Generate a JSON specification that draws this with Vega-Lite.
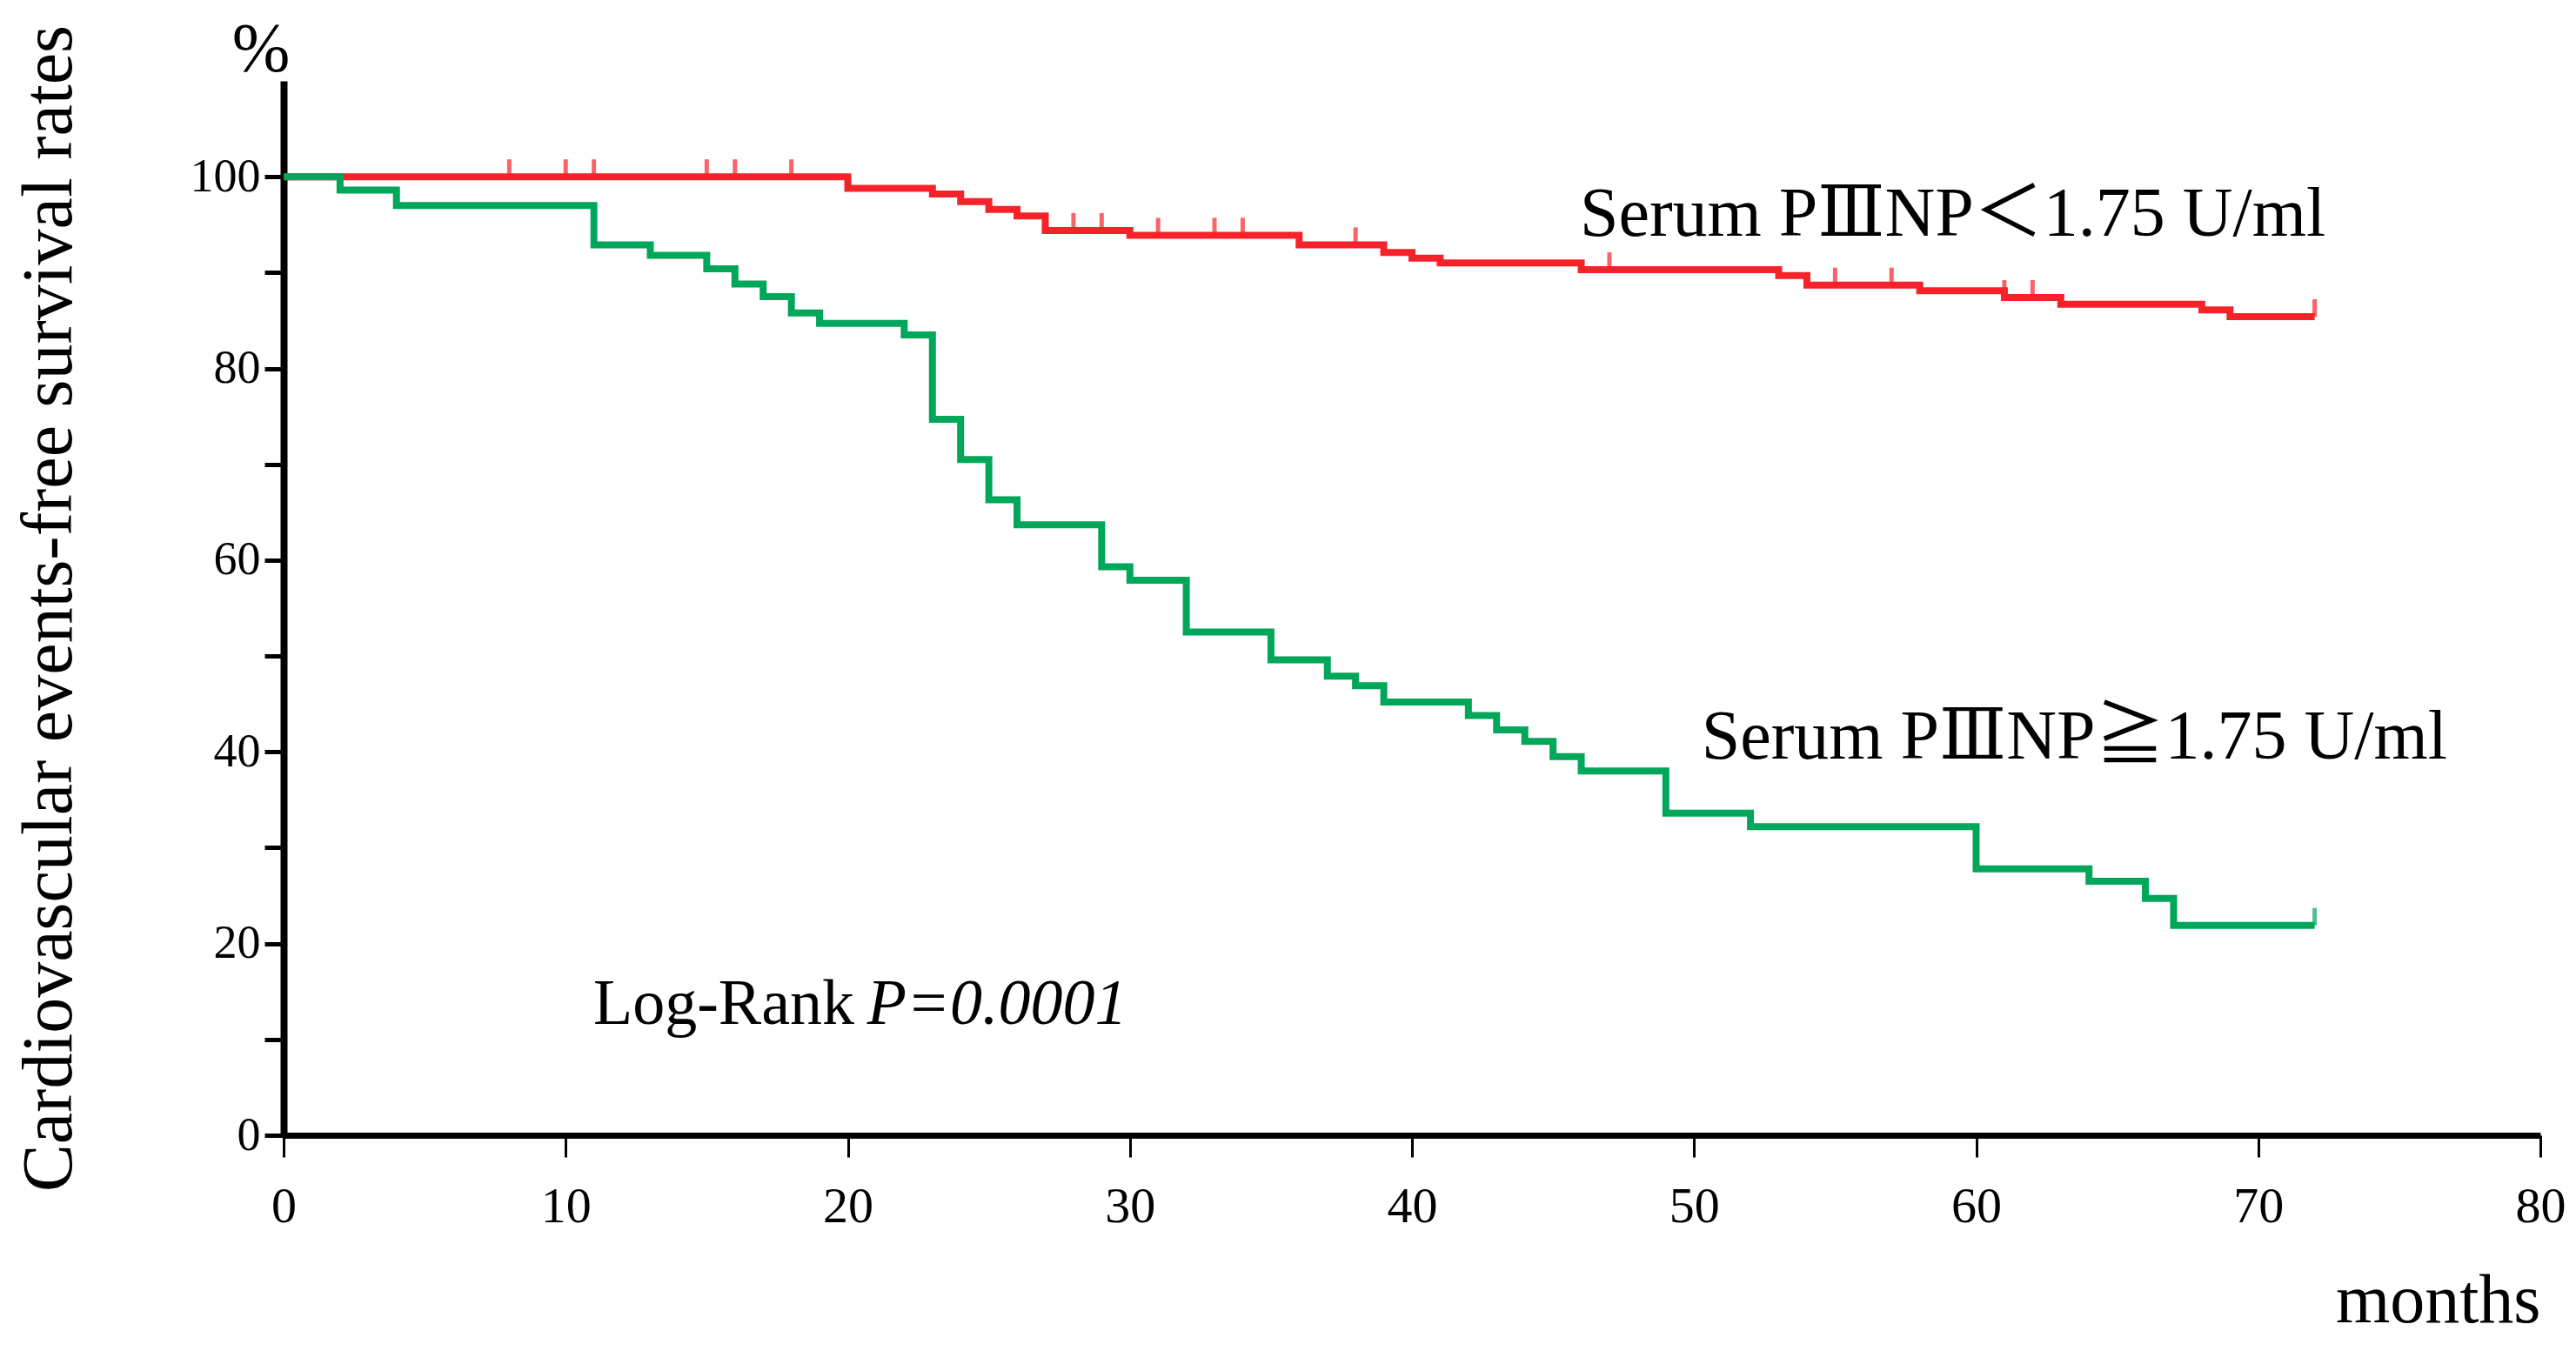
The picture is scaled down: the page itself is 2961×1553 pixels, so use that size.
{
  "$schema": "https://vega.github.io/schema/vega-lite/v6.json",
  "width": 2594,
  "height": 1212,
  "autosize": {"type": "none"},
  "padding": {"left": 326, "top": 93, "right": 41, "bottom": 248},
  "background": "white",
  "config": {"view": {"stroke": null}, "font": "Liberation Serif"},
  "datasets": {
    "curves": [
      {"group": "low", "month": 0, "survival": 100},
      {"group": "low", "month": 20, "survival": 98.8},
      {"group": "low", "month": 23, "survival": 98.2},
      {"group": "low", "month": 24, "survival": 97.4},
      {"group": "low", "month": 25, "survival": 96.6},
      {"group": "low", "month": 26, "survival": 95.9},
      {"group": "low", "month": 27, "survival": 94.4},
      {"group": "low", "month": 30, "survival": 93.9},
      {"group": "low", "month": 36, "survival": 92.9},
      {"group": "low", "month": 39, "survival": 92.1},
      {"group": "low", "month": 40, "survival": 91.5},
      {"group": "low", "month": 41, "survival": 91.0},
      {"group": "low", "month": 46, "survival": 90.3},
      {"group": "low", "month": 53, "survival": 89.7},
      {"group": "low", "month": 54, "survival": 88.7},
      {"group": "low", "month": 58, "survival": 88.1},
      {"group": "low", "month": 61, "survival": 87.4},
      {"group": "low", "month": 63, "survival": 86.7},
      {"group": "low", "month": 68, "survival": 86.1},
      {"group": "low", "month": 69, "survival": 85.4},
      {"group": "low", "month": 72, "survival": 85.4},
      {"group": "high", "month": 0, "survival": 100},
      {"group": "high", "month": 2, "survival": 98.6},
      {"group": "high", "month": 4, "survival": 97.0},
      {"group": "high", "month": 11, "survival": 92.9},
      {"group": "high", "month": 13, "survival": 91.8},
      {"group": "high", "month": 15, "survival": 90.4},
      {"group": "high", "month": 16, "survival": 88.8},
      {"group": "high", "month": 17, "survival": 87.5},
      {"group": "high", "month": 18, "survival": 85.8},
      {"group": "high", "month": 19, "survival": 84.7},
      {"group": "high", "month": 22, "survival": 83.5},
      {"group": "high", "month": 23, "survival": 74.7},
      {"group": "high", "month": 24, "survival": 70.5},
      {"group": "high", "month": 25, "survival": 66.3},
      {"group": "high", "month": 26, "survival": 63.7},
      {"group": "high", "month": 29, "survival": 59.3},
      {"group": "high", "month": 30, "survival": 57.9},
      {"group": "high", "month": 32, "survival": 52.5},
      {"group": "high", "month": 35, "survival": 49.6},
      {"group": "high", "month": 37, "survival": 47.9},
      {"group": "high", "month": 38, "survival": 46.9},
      {"group": "high", "month": 39, "survival": 45.2},
      {"group": "high", "month": 42, "survival": 43.8},
      {"group": "high", "month": 43, "survival": 42.3},
      {"group": "high", "month": 44, "survival": 41.1},
      {"group": "high", "month": 45, "survival": 39.5},
      {"group": "high", "month": 46, "survival": 38.0},
      {"group": "high", "month": 49, "survival": 33.6},
      {"group": "high", "month": 52, "survival": 32.2},
      {"group": "high", "month": 60, "survival": 27.8},
      {"group": "high", "month": 64, "survival": 26.5},
      {"group": "high", "month": 66, "survival": 24.7},
      {"group": "high", "month": 67, "survival": 21.9},
      {"group": "high", "month": 72, "survival": 21.9}
    ],
    "censor": [
      {"group": "low", "month": 8, "survival": 100},
      {"group": "low", "month": 10, "survival": 100},
      {"group": "low", "month": 11, "survival": 100},
      {"group": "low", "month": 15, "survival": 100},
      {"group": "low", "month": 16, "survival": 100},
      {"group": "low", "month": 18, "survival": 100},
      {"group": "low", "month": 28, "survival": 94.4},
      {"group": "low", "month": 29, "survival": 94.4},
      {"group": "low", "month": 31, "survival": 93.9},
      {"group": "low", "month": 33, "survival": 93.9},
      {"group": "low", "month": 34, "survival": 93.9},
      {"group": "low", "month": 38, "survival": 92.9},
      {"group": "low", "month": 47, "survival": 90.3},
      {"group": "low", "month": 55, "survival": 88.7},
      {"group": "low", "month": 57, "survival": 88.7},
      {"group": "low", "month": 61, "survival": 87.4},
      {"group": "low", "month": 62, "survival": 87.4},
      {"group": "low", "month": 72, "survival": 85.4},
      {"group": "high", "month": 72, "survival": 21.9}
    ],
    "groupLabels": [
      {"month": 45.95, "survival": 93.8, "text": "Serum PⅢNP＜1.75 U/ml"},
      {"month": 50.26, "survival": 39.3, "text": "Serum PⅢNP≧1.75 U/ml"}
    ],
    "logrank": [{"month": 10.98, "survival": 11.64, "text": "Log-Rank "}],
    "pvalue": [{"month": 20.69, "survival": 11.64, "text": "P=0.0001"}],
    "unit": [{"month": -0.8, "survival": 111, "text": "%"}]
  },
  "encoding": {
    "x": {
      "field": "month",
      "type": "quantitative",
      "scale": {"domain": [0, 80], "nice": false, "zero": false},
      "axis": {
        "values": [0, 10, 20, 30, 40, 50, 60, 70, 80],
        "title": "months",
        "grid": false,
        "domainColor": "black",
        "domainWidth": 7,
        "tickColor": "black",
        "tickWidth": 3,
        "tickSize": 25,
        "labelFont": "Liberation Serif",
        "labelFontSize": 58,
        "labelColor": "black",
        "labelPadding": 28,
        "labelFlush": false,
        "titleFont": "Liberation Serif",
        "titleFontSize": 80,
        "titleFontWeight": "normal",
        "titleColor": "black",
        "titleAnchor": "end",
        "titleAlign": "right",
        "titlePadding": 40
      }
    },
    "y": {
      "field": "survival",
      "type": "quantitative",
      "scale": {"domain": [0, 110], "nice": false},
      "axis": {
        "values": [0, 10, 20, 30, 40, 50, 60, 70, 80, 90, 100],
        "labelExpr": "datum.value % 20 == 0 ? datum.label : ''",
        "title": "Cardiovascular events-free survival rates",
        "grid": false,
        "domainColor": "black",
        "domainWidth": 8,
        "tickColor": "black",
        "tickWidth": 5,
        "tickSize": 22,
        "labelFont": "Liberation Serif",
        "labelFontSize": 54,
        "labelColor": "black",
        "labelPadding": 5,
        "titleFont": "Liberation Serif",
        "titleFontSize": 82,
        "titleFontWeight": "normal",
        "titleColor": "black",
        "titlePadding": 120
      }
    }
  },
  "layer": [
    {
      "data": {"name": "curves"},
      "transform": [{"filter": "datum.group == 'low'"}],
      "mark": {"type": "line", "interpolate": "step-after", "strokeWidth": 8, "color": "#F5222A"}
    },
    {
      "data": {"name": "censor"},
      "transform": [{"filter": "datum.group == 'low'"}],
      "mark": {"type": "tick", "orient": "vertical", "size": 20, "thickness": 5, "yOffset": -10, "color": "#F5222A"}
    },
    {
      "data": {"name": "curves"},
      "transform": [{"filter": "datum.group == 'high'"}],
      "mark": {"type": "line", "interpolate": "step-after", "strokeWidth": 8, "color": "#00A65A"}
    },
    {
      "data": {"name": "censor"},
      "transform": [{"filter": "datum.group == 'high'"}],
      "mark": {"type": "tick", "orient": "vertical", "size": 20, "thickness": 5, "yOffset": -10, "color": "#00A65A"}
    },
    {
      "data": {"name": "groupLabels"},
      "mark": {"type": "text", "align": "left", "baseline": "alphabetic", "font": "Liberation Serif, DejaVu Serif, Noto Sans CJK JP", "fontSize": 80, "color": "black"},
      "encoding": {"text": {"field": "text"}}
    },
    {
      "data": {"name": "logrank"},
      "mark": {"type": "text", "align": "left", "baseline": "alphabetic", "font": "Liberation Serif", "fontSize": 74, "color": "black"},
      "encoding": {"text": {"field": "text"}}
    },
    {
      "data": {"name": "pvalue"},
      "mark": {"type": "text", "align": "left", "baseline": "alphabetic", "font": "Liberation Serif", "fontSize": 74, "fontStyle": "italic", "color": "black"},
      "encoding": {"text": {"field": "text"}}
    },
    {
      "data": {"name": "unit"},
      "mark": {"type": "text", "align": "center", "baseline": "alphabetic", "font": "Liberation Serif", "fontSize": 80, "color": "black"},
      "encoding": {"text": {"field": "text"}}
    }
  ]
}
